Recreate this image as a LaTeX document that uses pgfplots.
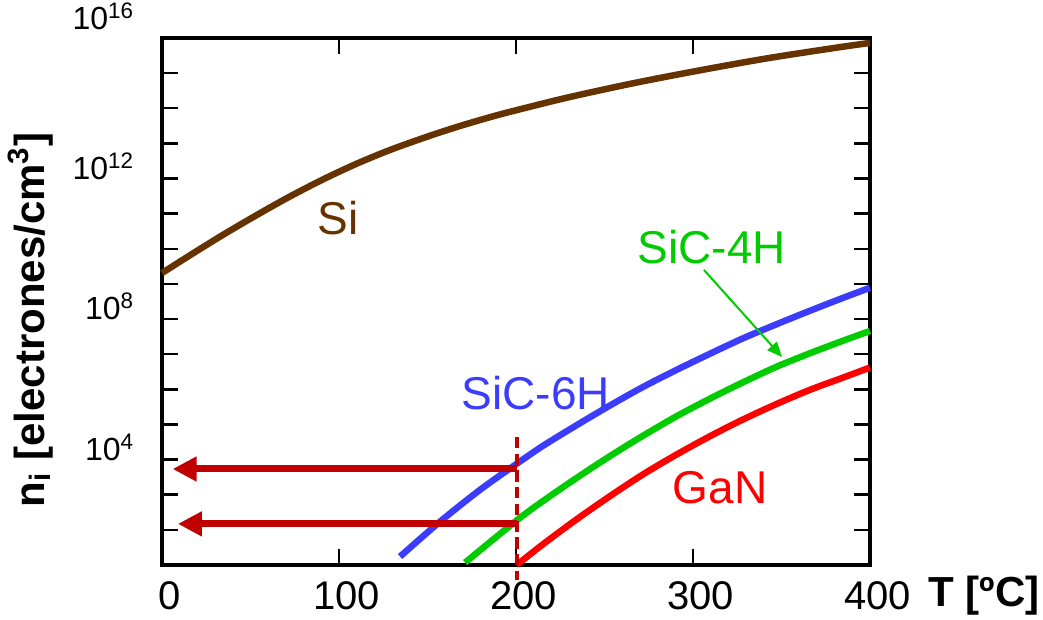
\documentclass[border=0pt]{standalone}
\usepackage{fontspec}
\setmainfont{Liberation Sans}
\usepackage{pgfplots}
\pgfplotsset{compat=1.18}
\usetikzlibrary{arrows.meta}
\definecolor{sibrown}{RGB}{102,51,0}
\definecolor{sicblue}{RGB}{60,60,255}
\definecolor{sicgreen}{RGB}{0,204,0}
\definecolor{ganred}{RGB}{255,0,0}
\definecolor{markred}{RGB}{192,0,0}

\begin{document}
\begin{tikzpicture}
\useasboundingbox (-64.8pt,-22pt) rectangle (352.4pt,226pt);
\begin{axis}[
  at={(0pt,0pt)}, anchor=south west,
  scale only axis, width=283.2pt, height=210.8pt,
  ymode=log,
  xmin=0, xmax=400, ymin=1e1, ymax=1e16,
  xtick={0,100,200,300,400},
  ytick={1e4,1e8,1e12,1e16},
  yticklabels={10\textsuperscript{4},
    10\textsuperscript{8},
    10\textsuperscript{12}\hspace{3.6pt},
    \raisebox{3.6pt}[\height][\depth]{10\textsuperscript{16}}\hspace{3.6pt}},
  minor ytick={1e1,1e2,1e3,1e5,1e6,1e7,1e9,1e10,1e11,1e13,1e14,1e15},
  /pgf/number format/assume math mode=true,
  axis line style={line width=1.8pt},
  major tick length=6.5pt, minor tick length=6.5pt,
  tick style={black, line width=1pt},
  xticklabel style={font=\fontsize{16}{19}\selectfont, yshift=-3pt, xshift=3pt},
  yticklabel style={font=\fontsize{12.8}{15}\selectfont, yshift=5pt, xshift=-7.5pt},
  xlabel={T [ºC]},
  xlabel style={at={(axis description cs:1.161,-0.059)}, anchor=center,
    font=\fontsize{16.8}{20}\selectfont\bfseries},
  ylabel={n\textsubscript{i} [electrones/cm\textsuperscript{3}]},
  ylabel style={at={(axis description cs:-0.186,0.465)}, anchor=center,
    font=\fontsize{16.8}{20}\selectfont\bfseries},
  clip=false,
]

% Si
\addplot[sibrown, line width=2.6pt, smooth] coordinates {
  (0,2.04e9) (14.7,6.03e9) (33.9,2.40e10) (52.5,8.51e10) (71.2,2.88e11)
  (90.4,9.12e11) (109,2.51e12) (127.7,6.17e12) (146.9,1.38e13)
  (165.5,2.82e13) (184.2,5.37e13) (198.3,8.32e13) (228.8,2.0e14)
  (266.1,5.13e14) (303.9,1.20e15) (341.8,2.63e15) (379.1,5.13e15)
  (400,7.24e15)
};

% SiC-6H
\addplot[sicblue, line width=2.6pt, smooth] coordinates {
  (134.5,17.4) (157,170) (179.7,1380) (200.4,7586) (215.5,2.51e4)
  (234.3,9.55e4) (253.1,3.47e5) (271.8,1.17e6) (290.6,3.55e6)
  (309.4,1.02e7) (328.2,2.82e7) (347.1,7.08e7) (365.8,1.70e8)
  (384.6,3.98e8) (400,7.76e8)
};

% SiC-4H
\addplot[sicgreen, line width=2.6pt, smooth] coordinates {
  (171.2,11.7) (200.4,186) (215.5,676) (234.3,3020) (253.1,1.26e4)
  (271.8,4.79e4) (290.6,1.70e5) (309.4,5.37e5) (328.2,1.58e6)
  (347.1,4.37e6) (365.8,1.05e7) (384.6,2.40e7) (400,4.57e7)
};

% GaN
\addplot[ganred, line width=2.6pt, smooth] coordinates {
  (200.4,10) (215.5,39.8) (234.3,200) (253.1,912) (271.8,3802)
  (290.6,1.38e4) (309.4,4.57e4) (328.2,1.38e5) (347.1,3.80e5)
  (365.8,9.55e5) (384.6,2.14e6) (400,4.17e6)
};

% 200 C marker and arrows
\addplot[markred, line width=1.6pt, dash pattern=on 4.5pt off 2.2pt] coordinates {
  (200.5,4.4e4) (200.5,3.7)
};
\addplot[markred, line width=2.8pt, -{Triangle[length=9.6pt,width=9.4pt]}] coordinates {
  (200.5,5.4e3) (6,5.4e3)
};
\addplot[markred, line width=2.8pt, -{Triangle[length=9.6pt,width=9.4pt]}] coordinates {
  (200.5,148) (9,148)
};
\addplot[sicgreen, line width=0.8pt, -{Triangle[length=6pt,width=5pt]}] coordinates {
  (306.2,2.5e9) (350.3,8.3e6)
};

\node[text=sibrown, font=\fontsize{18.4}{22}\selectfont] at (axis cs:99.4,7.6e10) {Si};
\node[text=sicgreen, font=\fontsize{18.4}{22}\selectfont] at (axis cs:310.7,1.12e10) {SiC-4H};
\node[text=sicblue, font=\fontsize{18.4}{22}\selectfont] at (axis cs:211.3,7.9e5) {SiC-6H};
\node[text=ganred, font=\fontsize{18.4}{22}\selectfont] at (axis cs:315.3,1549) {GaN};

\end{axis}
\end{tikzpicture}
\end{document}
